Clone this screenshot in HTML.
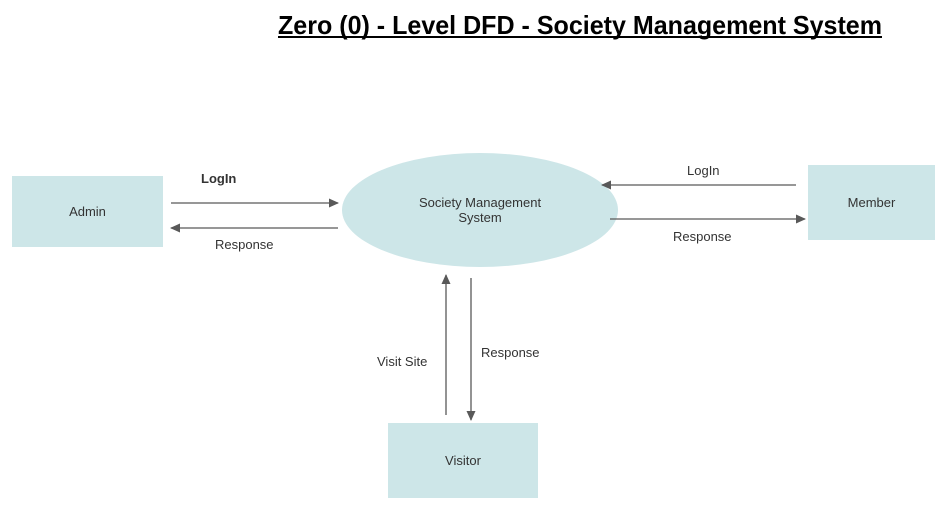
<!DOCTYPE html>
<html><head><meta charset="utf-8"><style>html,body{margin:0;padding:0;background:#fff;}</style></head>
<body>
<svg width="946" height="511" xmlns="http://www.w3.org/2000/svg" font-family="Liberation Sans, Arial, sans-serif">
<defs>
<marker id="a" markerWidth="10" markerHeight="10" refX="9" refY="5" orient="auto" markerUnits="userSpaceOnUse">
<path d="M0,0.5 L10,5 L0,9.5 Z" fill="#595959"/></marker>
</defs>
<text x="278" y="34" font-size="26" font-weight="bold" textLength="604" lengthAdjust="spacingAndGlyphs" fill="#000">Zero (0) - Level DFD - Society Management System</text>
<line x1="278" y1="37" x2="882" y2="37" stroke="#000" stroke-width="2"/>
<rect x="12" y="176" width="151" height="71" fill="#cde6e8"/>
<text x="87.5" y="216" font-size="13" text-anchor="middle" fill="#333">Admin</text>
<ellipse cx="480" cy="210" rx="138" ry="57" fill="#cde6e8"/>
<text x="480" y="207" font-size="13" text-anchor="middle" fill="#333">Society Management</text>
<text x="480" y="222" font-size="13" text-anchor="middle" fill="#333">System</text>
<rect x="808" y="165" width="127" height="75" fill="#cde6e8"/>
<text x="871.5" y="207" font-size="13" text-anchor="middle" fill="#333">Member</text>
<rect x="388" y="423" width="150" height="75" fill="#cde6e8"/>
<text x="463" y="465" font-size="13" text-anchor="middle" fill="#333">Visitor</text>
<g stroke="#595959" stroke-width="1.3" fill="none" marker-end="url(#a)">
<line x1="171" y1="203" x2="338" y2="203"/>
<line x1="338" y1="228" x2="171" y2="228"/>
<line x1="796" y1="185" x2="602" y2="185"/>
<line x1="610" y1="219" x2="805" y2="219"/>
<line x1="446" y1="415" x2="446" y2="275"/>
<line x1="471" y1="278" x2="471" y2="420"/>
</g>
<g font-size="13" fill="#333">
<text x="201" y="183" font-weight="bold">LogIn</text>
<text x="215" y="249">Response</text>
<text x="687" y="175">LogIn</text>
<text x="673" y="241">Response</text>
<text x="377" y="366">Visit Site</text>
<text x="481" y="357">Response</text>
</g>
</svg>
</body></html>
